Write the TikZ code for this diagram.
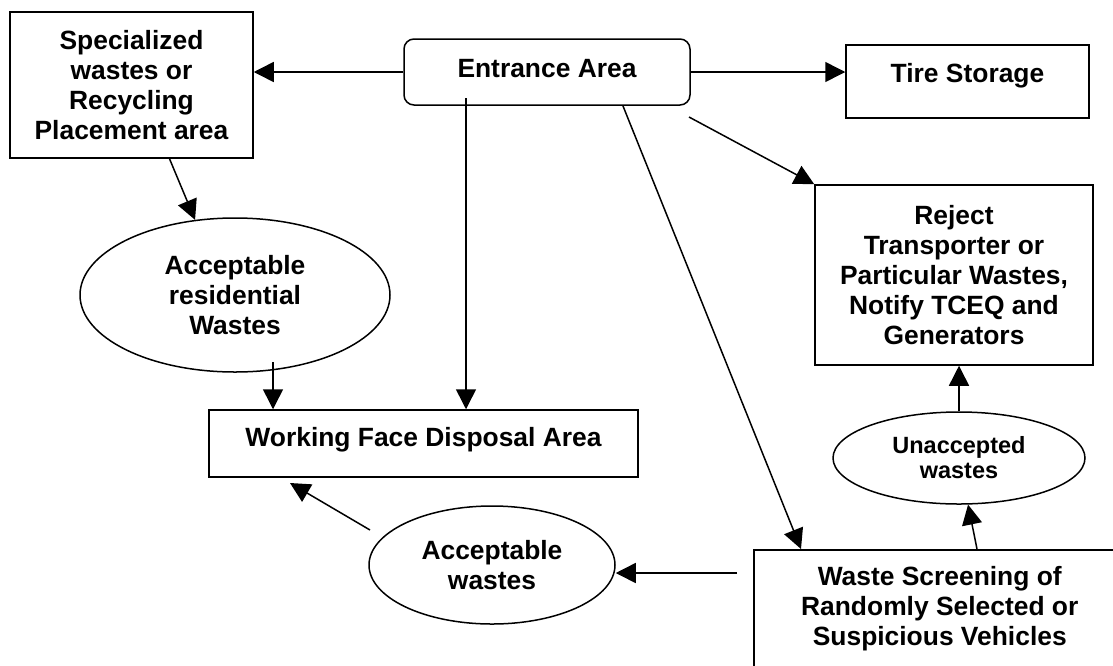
\documentclass[tikz,border=0pt]{standalone}
\usepackage{fontspec}
\setmainfont{Liberation Sans}
\usetikzlibrary{shapes.geometric,arrows.meta}

\tikzset{
  box/.style={draw, rectangle, line width=1.5pt, inner sep=0pt, align=center},
  oval/.style={draw, ellipse, line width=1.5pt, inner sep=0pt, align=center},
  flow/.style={-{Triangle[length=20pt,width=20pt]}, line width=1.5pt},
}

\begin{document}
\begin{tikzpicture}[x=1pt, y=-1pt]
            \useasboundingbox (0,0) rectangle (1113,665);
            \clip (0,0) rectangle (1113,665);
            {\fontsize{26.4}{30}\selectfont\bfseries

            % Boxes on the top row
            \node [box, minimum width=243, minimum height=146] (special) at (131.5,85) {Specialized\\wastes or\\Recycling\\Placement area};%
            \node [box, rounded corners=10pt, minimum width=286, text height=38, text depth=28] (entrance) at (547,72) {Entrance Area};%
            \node [box, minimum width=243, text height=37, text depth=36] (tire) at (967.5,81.5) {Tire Storage};%

            % Box for rejected loads
            \node [box, minimum width=278, minimum height=180] (reject) at (954,275) {Reject\\Transporter or\\Particular Wastes,\\Notify TCEQ and\\Generators};%

            % Ellipses
            \node [oval, minimum width=310, minimum height=154] (resid) at (235,295) {Acceptable\\residential\\Wastes};%
            \node [oval, minimum width=246, minimum height=118] (accw) at (492,565) {Acceptable\\wastes};%
            \node [oval, minimum width=252, minimum height=92, font=\fontsize{23.5}{25}\selectfont\bfseries] (unacc) at (959,458) {Unaccepted\\wastes};%

            % Disposal and screening boxes
            \node [box, minimum width=429, text height=36, text depth=31] (work) at (423.5,443.5) {Working Face Disposal Area};%
            \node [box, anchor=north west, minimum width=372, inner ysep=17pt, text depth=80pt] (screen) at (753,549) {Waste Screening of\\Randomly Selected or\\Suspicious Vehicles};%

            % Free ends of some connectors
            \coordinate (e1) at (466,98);%
            \coordinate (e2) at (623,106);%
            \coordinate (e3) at (689,117);%
            \coordinate (r1) at (273,362);%
            \coordinate (a1) at (370,530);%
            \coordinate (w1) at (290,483);%
            \coordinate (s1) at (737,573);%

            % Connectors out of the entrance
            \draw [flow] (entrance.west) -- (entrance.west -| special.east);%
            \draw [flow] (entrance.east) -- (entrance.east -| tire.west);%
            \draw [flow] (e1) -- (e1 |- work.north);%
            \draw [flow] (e2) -- ([xshift=48pt]screen.north west);%
            \draw [flow] (e3) -- (reject.north west);%

            % Connectors on the left
            \draw [flow] ([xshift=38pt]special.south) -- (resid.118);%
            \draw [flow] (r1) -- (r1 |- work.north);%
            \draw [flow] (a1) -- (w1);%

            % Connectors out of the screening
            \draw [flow] (s1) -- (s1 -| accw.east);%
            \draw [flow] ([xshift=224pt]screen.north west) -- (unacc.-79);%
            \draw [flow] (unacc.north) -- (unacc.north |- reject.south);%
            }
\end{tikzpicture}
\end{document}
